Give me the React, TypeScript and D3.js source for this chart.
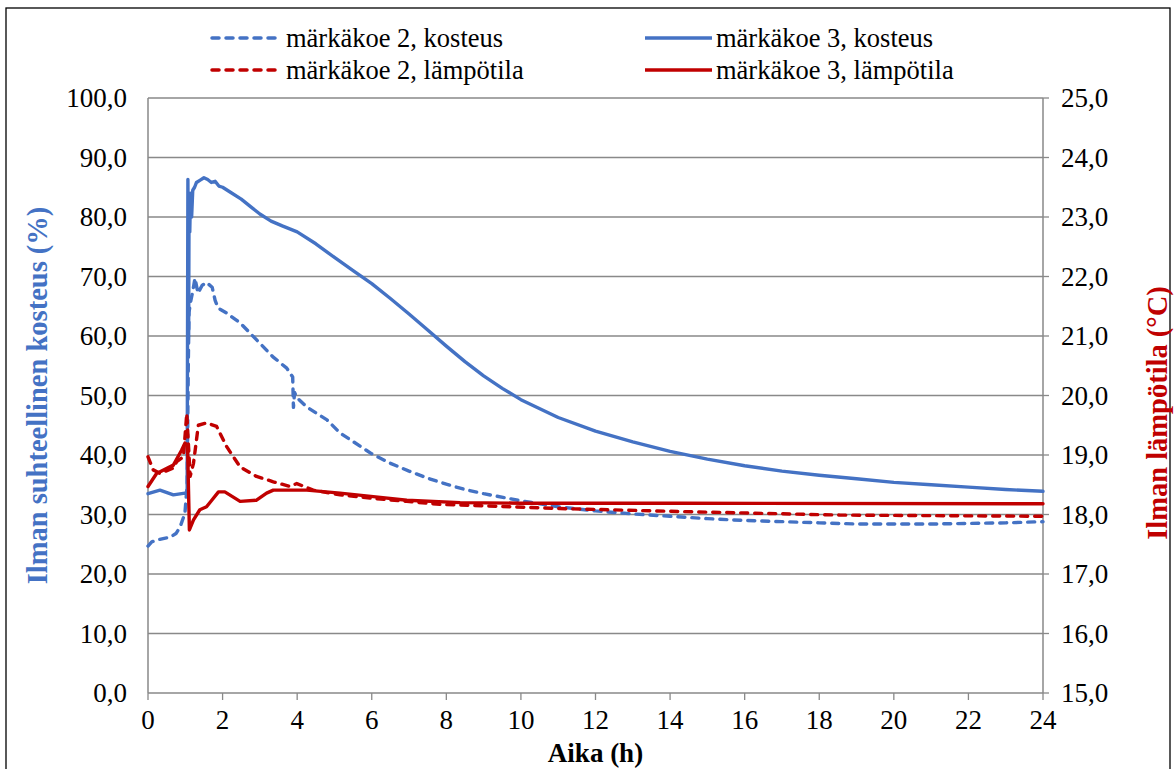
import React from 'react';
import * as d3 from 'd3';

// märkäkoe 2, kosteus (%)
const kost2Time = [0, 0.1, 0.3, 0.6, 0.75, 0.86, 0.99, 1.05, 1.08, 1.1, 1.15, 1.2, 1.26, 1.34, 1.45, 1.57, 1.72, 1.8, 1.88, 2.1, 2.47, 2.92, 3.35, 3.72, 3.88, 3.9, 3.93, 4.0, 4.25, 4.8, 5.15, 6, 6.5, 7, 7.5, 8, 8.5, 9, 10, 11, 12, 13, 14, 15, 16, 17, 18, 19, 20, 21, 22, 23, 24];
const kost2Values = [24.7, 25.4, 25.8, 26.2, 26.8, 27.9, 30.2, 35, 55, 64, 66, 67.5, 69.7, 67.2, 68.5, 69, 68.2, 66, 64.7, 63.9, 62.2, 59.3, 56.5, 54.6, 53.1, 48.0, 50.5, 49.6, 48.1, 45.9, 43.7, 40.2, 38.6, 37.3, 36.1, 35.1, 34.2, 33.5, 32.3, 31.3, 30.6, 30.1, 29.7, 29.3, 29.0, 28.8, 28.6, 28.4, 28.4, 28.4, 28.5, 28.6, 28.8];

// märkäkoe 3, kosteus (%)
const kost3Time = [0, 0.32, 0.68, 0.99, 1.05, 1.07, 1.09, 1.1, 1.12, 1.14, 1.17, 1.2, 1.25, 1.3, 1.4, 1.5, 1.6, 1.7, 1.8, 1.9, 2.0, 2.2, 2.5, 2.8, 3.0, 3.3, 3.6, 4.0, 4.5, 5.0, 5.5, 6, 6.5, 7, 7.5, 8, 8.5, 9, 9.5, 10, 11, 12, 13, 14, 15, 16, 17, 18, 19, 20, 21, 22, 23, 24];
const kost3Values = [33.5, 34.1, 33.3, 33.6, 33.5, 86.3, 60, 80, 77.5, 84, 80, 84.5, 85, 85.8, 86.2, 86.6, 86.3, 85.8, 86, 85.2, 85.0, 84.2, 83.0, 81.5, 80.5, 79.3, 78.5, 77.5, 75.5, 73.2, 71, 68.8, 66.3, 63.7, 61, 58.3, 55.7, 53.3, 51.2, 49.3, 46.3, 44.0, 42.2, 40.6, 39.3, 38.2, 37.3, 36.6, 36.0, 35.4, 35.0, 34.6, 34.2, 33.9];

// märkäkoe 2, lämpötila (°C)
const temp2Time = [0, 0.14, 0.32, 0.68, 0.77, 0.95, 1.04, 1.13, 1.22, 1.35, 1.57, 1.84, 2.11, 2.47, 2.91, 3.36, 3.81, 3.99, 4.43, 5.15, 6.04, 6.94, 7.83, 8.37, 11.05, 14.27, 18.56, 24];
const temp2Values = [18.97, 18.75, 18.69, 18.78, 18.89, 18.97, 19.7, 18.64, 18.86, 19.5, 19.54, 19.48, 19.14, 18.8, 18.64, 18.55, 18.47, 18.52, 18.41, 18.33, 18.27, 18.22, 18.17, 18.16, 18.1, 18.05, 17.99, 17.97];

// märkäkoe 3, lämpötila (°C)
const temp3Time = [0, 0.23, 0.68, 0.9, 0.99, 1.06, 1.11, 1.22, 1.39, 1.57, 1.71, 1.89, 2.06, 2.47, 2.91, 3.18, 3.36, 4.26, 5.15, 6.04, 6.94, 8.37, 10, 14.27, 24];
const temp3Values = [18.47, 18.69, 18.83, 19.08, 19.2, 19.17, 17.74, 17.91, 18.08, 18.13, 18.24, 18.38, 18.38, 18.22, 18.24, 18.36, 18.41, 18.41, 18.36, 18.3, 18.24, 18.2, 18.19, 18.19, 18.18];

const xTicks = [0, 2, 4, 6, 8, 10, 12, 14, 16, 18, 20, 22, 24];
const leftTicks = [0, 10, 20, 30, 40, 50, 60, 70, 80, 90, 100];
const rightTicks = [15, 16, 17, 18, 19, 20, 21, 22, 23, 24, 25];

const legendNames = ['märkäkoe 2, kosteus', 'märkäkoe 3, kosteus', 'märkäkoe 2, lämpötila', 'märkäkoe 3, lämpötila'];

const BLUE = '#4472C4';
const RED = '#C00000';
const GRID = '#898989';
const FONT = 'Liberation Serif';

const left = 148, right = 1043, top = 98, bottom = 693;

const x = d3.scaleLinear().domain([0, 24]).range([left, right]);
const yL = d3.scaleLinear().domain([0, 100]).range([bottom, top]);
const yR = d3.scaleLinear().domain([15, 25]).range([bottom, top]);

const fmt = (v: number) => v.toFixed(1).replace('.', ',');

export default function App() {
  const series = [
    { t: kost2Time, v: kost2Values, y: yL, color: BLUE, dash: true },
    { t: kost3Time, v: kost3Values, y: yL, color: BLUE, dash: false },
    { t: temp2Time, v: temp2Values, y: yR, color: RED, dash: true },
    { t: temp3Time, v: temp3Values, y: yR, color: RED, dash: false },
  ];

  const legendPos = [
    { x1: 212, x2: 281, tx: 286, y: 38 },
    { x1: 645, x2: 712, tx: 716, y: 38 },
    { x1: 212, x2: 281, tx: 286, y: 70 },
    { x1: 645, x2: 712, tx: 716, y: 70 },
  ];

  return (
    <svg width={1176} height={769} style={{ position: 'absolute', left: 0, top: 0, background: 'white' }}>
      {/* chart border */}
      <rect x={6} y={8} width={1164} height={780} fill="white" stroke="#000" strokeWidth={1.3} />

      {/* gridlines + axes */}
      {leftTicks.map((d) => (
        <line key={'g' + d} x1={left} x2={right} y1={yL(d)} y2={yL(d)} stroke={GRID} strokeWidth={1.5} />
      ))}
      <line x1={left} x2={left} y1={top} y2={bottom} stroke={GRID} strokeWidth={1.5} />
      <line x1={right} x2={right} y1={top} y2={bottom} stroke={GRID} strokeWidth={1.5} />

      {xTicks.map((d) => (
        <line key={'xt' + d} x1={x(d)} x2={x(d)} y1={bottom} y2={bottom + 7} stroke={GRID} strokeWidth={1.3} />
      ))}
      {rightTicks.map((d) => (
        <line key={'rt' + d} x1={right} x2={right + 6} y1={yR(d)} y2={yR(d)} stroke={GRID} strokeWidth={1.3} />
      ))}

      {/* tick labels */}
      <g fontFamily={FONT} fontSize={27}>
        {leftTicks.map((d) => (
          <text key={'ll' + d} x={127} y={yL(d)} dy="0.35em" textAnchor="end">{fmt(d)}</text>
        ))}
        {rightTicks.map((d) => (
          <text key={'rl' + d} x={1061} y={yR(d)} dy="0.35em">{fmt(d)}</text>
        ))}
        {xTicks.map((d) => (
          <text key={'xl' + d} x={x(d)} y={729} textAnchor="middle">{d}</text>
        ))}
      </g>

      {/* axis titles */}
      <g fontFamily={FONT} fontWeight="bold" fontSize={28.5}>
        <text x={x(12)} y={762} textAnchor="middle" fontSize={27}>Aika (h)</text>
        <text transform={`translate(47,${(top + bottom) / 2}) rotate(-90)`} textAnchor="middle" fill={BLUE}>
          Ilman suhteellinen kosteus (%)
        </text>
        <text transform="translate(1167,413) rotate(-90)" textAnchor="middle" fill={RED}>
          Ilman lämpötila (°C)
        </text>
      </g>

      {/* series */}
      {series.map((s, i) => {
        const pts = s.t.map((t, j) => [t, s.v[j]] as [number, number]);
        const line = d3.line<[number, number]>().x((d) => x(d[0])).y((d) => s.y(d[1]));
        return (
          <path key={'s' + i} d={line(pts) || ''} fill="none" stroke={s.color} strokeWidth={3.4}
            strokeLinejoin="round" strokeLinecap="round" strokeDasharray={s.dash ? '7,7' : undefined} />
        );
      })}

      {/* legend */}
      {legendNames.map((name, i) => {
        const p = legendPos[i];
        const s = series[i];
        return (
          <g key={'lg' + i}>
            <line x1={p.x1} x2={p.x2} y1={p.y} y2={p.y} stroke={s.color} strokeWidth={3.5}
              strokeLinecap={s.dash ? 'round' : 'butt'} strokeDasharray={s.dash ? '7,7' : undefined} />
            <text x={p.tx} y={p.y} dy="0.35em" fontFamily={FONT} fontSize={26.5}>{name}</text>
          </g>
        );
      })}
    </svg>
  );
}
